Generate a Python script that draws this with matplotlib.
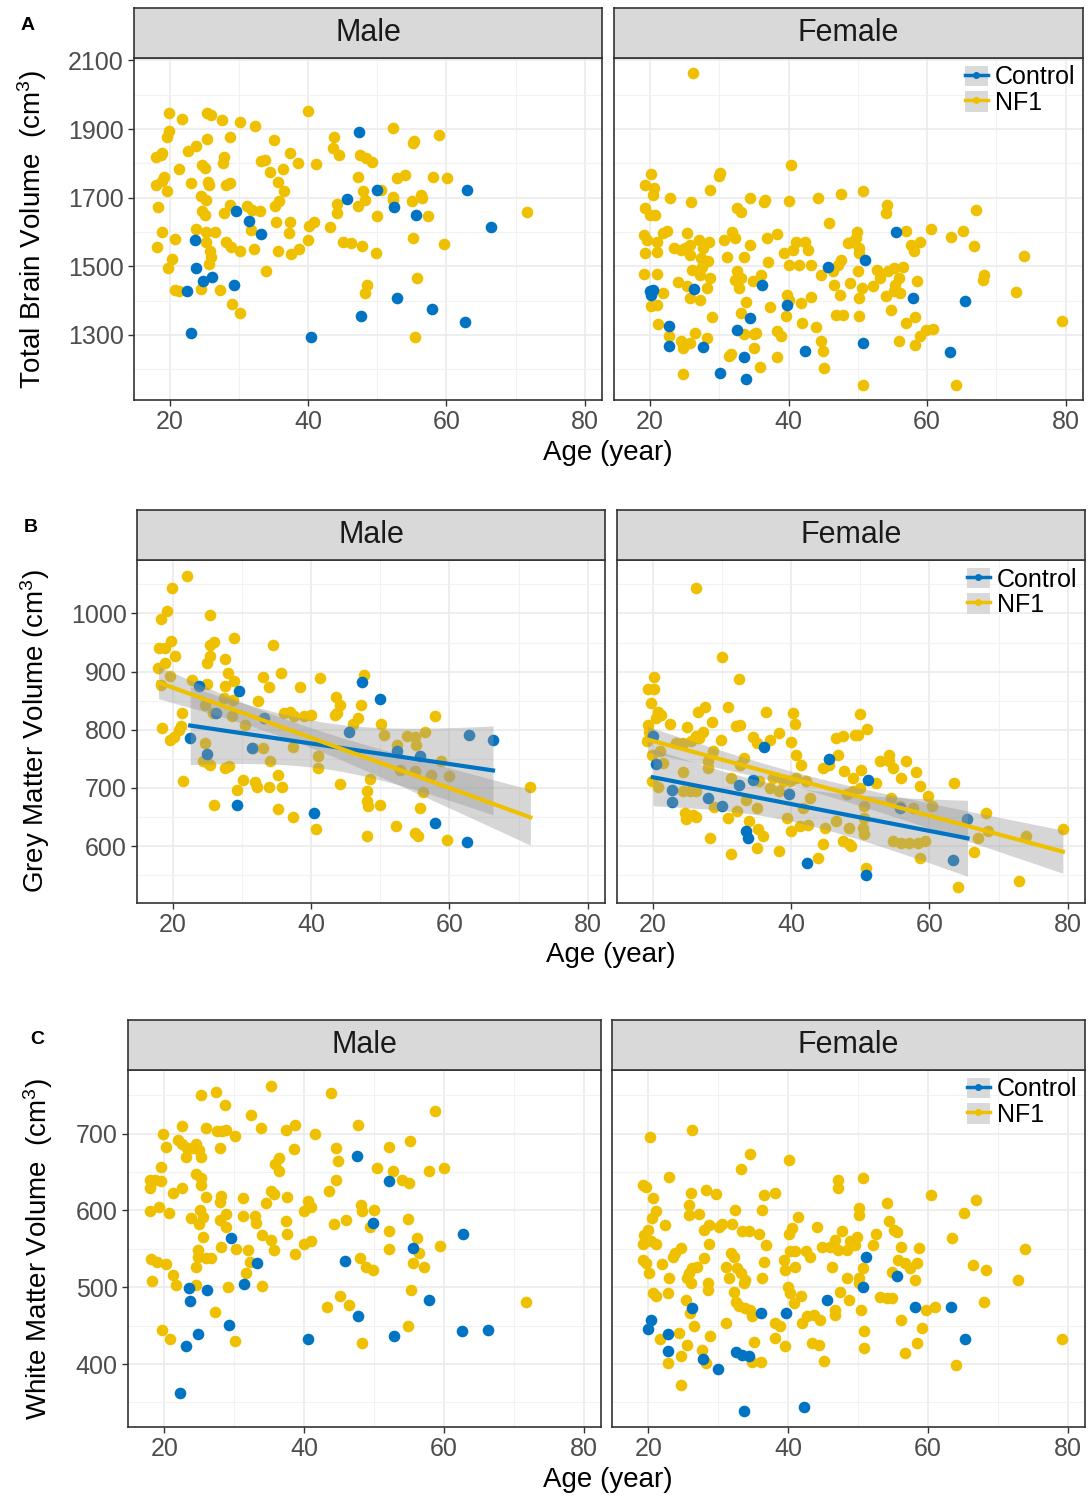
import numpy as np
import matplotlib
matplotlib.use('Agg')
import matplotlib.pyplot as plt
from matplotlib.patches import Patch
from matplotlib.lines import Line2D

plt.rcParams['font.family'] = ['Liberation Sans', 'DejaVu Sans']
plt.rcParams['mathtext.default'] = 'regular'

# ---- data ----
# A: total brain volume
tbv_male_ctrl_age = [47.4, 45.6, 29.5, 31.4, 33.2, 23.6, 23.8, 24.8, 26.1, 22.4, 29.2, 23.1, 40.4, 47.6,
                     49.9, 52.4, 55.6, 62.9, 66.4, 52.9, 57.9, 62.7]
tbv_male_ctrl = [1892, 1696, 1661, 1633, 1593, 1577, 1495, 1457, 1468, 1427, 1446, 1304, 1295, 1356,
                 1722, 1672, 1650, 1722, 1614, 1407, 1374, 1336]
tbv_male_nf1_age = [19.8, 21.8, 25.3, 25.9, 27.5, 30.1, 32.3, 19.9, 19.6, 25.3, 28.7, 35.1, 40.0, 18.0, 18.7,
                    18.9, 22.6, 23.8, 24.7, 25.0, 27.8, 27.7, 21.3, 33.1, 33.7, 37.3, 38.5, 43.8, 43.6, 44.4,
                    41.1, 34.5, 36.3, 19.1, 18.8, 18.0, 19.6, 23.1, 25.5, 25.6, 28.1, 28.7, 35.7, 36.5, 18.3,
                    24.5, 25.2, 28.7, 24.7, 25.0, 27.8, 31.2, 31.9, 33.0, 35.2, 35.8, 35.3, 37.4, 37.2, 31.7,
                    40.1, 40.8, 40.0, 43.2, 18.8, 20.8, 23.8, 25.2, 26.5, 18.1, 25.2, 25.8, 25.9, 25.6, 28.1,
                    28.8, 30.2, 32.2, 35.6, 37.5, 38.7, 44.1, 44.2, 45.1, 46.2, 47.8, 47.2, 47.9, 48.2, 47.2,
                    20.3, 19.7, 33.9, 20.7, 21.3, 24.5, 27.3, 29.0, 30.1, 48.5, 48.2, 47.5, 48.3, 49.3, 52.2,
                    58.9, 55.2, 55.3, 52.8, 54.0, 58.0, 60.1, 50.6, 52.3, 52.3, 55.0, 56.3, 56.5, 50.0, 57.4,
                    55.1, 59.6, 49.8, 55.7, 55.5, 71.7]
tbv_male_nf1 = [1948, 1929, 1946, 1941, 1927, 1921, 1908, 1895, 1878, 1870, 1877, 1867, 1953, 1818, 1824,
                1829, 1837, 1851, 1795, 1786, 1817, 1802, 1782, 1807, 1810, 1829, 1800, 1876, 1846, 1824,
                1799, 1774, 1783, 1761, 1747, 1737, 1720, 1743, 1745, 1737, 1737, 1744, 1745, 1720, 1672,
                1705, 1693, 1679, 1661, 1650, 1654, 1676, 1664, 1662, 1676, 1689, 1630, 1630, 1598, 1606,
                1616, 1630, 1575, 1613, 1599, 1579, 1609, 1601, 1600, 1557, 1572, 1543, 1528, 1507, 1572,
                1556, 1543, 1549, 1545, 1535, 1549, 1682, 1655, 1570, 1568, 1560, 1759, 1718, 1693, 1676,
                1521, 1495, 1485, 1432, 1429, 1434, 1432, 1390, 1363, 1446, 1422, 1824, 1815, 1803, 1904,
                1883, 1858, 1865, 1758, 1767, 1761, 1758, 1722, 1703, 1693, 1689, 1708, 1698, 1647, 1647,
                1582, 1565, 1538, 1465, 1293, 1659]
tbv_female_ctrl_age = [20.0, 20.5, 20.2, 26.3, 36.2, 39.8, 45.7, 22.8, 22.8, 27.7, 32.6, 34.5, 33.6, 30.1,
                       33.8, 42.3, 55.5, 51.1, 57.9, 65.4, 50.8, 63.3]
tbv_female_ctrl = [1427, 1431, 1415, 1433, 1446, 1388, 1499, 1325, 1267, 1265, 1315, 1349, 1236, 1189,
                   1172, 1252, 1599, 1517, 1407, 1399, 1276, 1250]
tbv_female_nf1_age = [26.2, 20.1, 19.3, 20.6, 20.4, 19.3, 20.0, 20.7, 22.9, 25.9, 28.6, 30.1, 29.9, 32.6, 33.1,
                      34.5, 36.6, 36.5, 40.0, 40.3, 44.3, 47.5, 45.8, 19.1, 19.5, 21.0, 21.9, 22.4, 19.3, 21.0,
                      25.3, 23.4, 24.4, 25.1, 25.8, 27.0, 28.5, 27.7, 27.3, 28.3, 25.8, 30.7, 31.9, 32.3, 31.1,
                      33.6, 34.4, 36.9, 38.3, 37.0, 19.2, 21.0, 24.0, 26.1, 27.5, 27.2, 28.7, 28.2, 25.4, 25.8,
                      27.2, 32.6, 33.1, 32.3, 32.8, 34.8, 36.0, 21.9, 21.0, 20.2, 21.2, 33.9, 37.3, 33.1, 28.9,
                      39.6, 39.8, 40.1, 39.4, 40.6, 41.1, 42.3, 42.8, 43.3, 41.5, 40.1, 41.8, 43.3, 41.9, 43.9,
                      44.7, 46.4, 47.6, 47.1, 46.6, 47.4, 46.8, 47.8, 22.7, 24.4, 24.7, 25.8, 26.5, 28.2, 24.7,
                      31.4, 31.7, 33.6, 35.0, 35.0, 35.3, 38.4, 38.9, 38.3, 35.9, 44.7, 45.0, 45.1, 50.8, 54.2,
                      54.1, 49.9, 49.8, 49.1, 48.6, 50.1, 50.2, 56.9, 57.6, 58.1, 59.0, 60.6, 63.5, 65.2, 66.7,
                      67.0, 74.0, 68.2, 68.1, 72.9, 79.4, 50.0, 48.9, 52.7, 53.2, 54.4, 55.2, 56.5, 55.9, 55.4,
                      55.2, 56.1, 52.2, 50.6, 50.1, 54.0, 58.5, 50.2, 54.8, 56.9, 58.3, 59.8, 60.9, 59.0, 58.3,
                      56.0, 50.8, 64.1]
tbv_female_nf1 = [2062, 1769, 1737, 1729, 1708, 1669, 1650, 1650, 1698, 1686, 1722, 1771, 1762, 1669, 1657,
                  1700, 1693, 1687, 1690, 1795, 1700, 1710, 1626, 1592, 1577, 1572, 1596, 1603, 1538, 1540,
                  1596, 1553, 1548, 1553, 1562, 1577, 1572, 1553, 1524, 1514, 1533, 1577, 1599, 1582, 1527,
                  1527, 1562, 1582, 1594, 1512, 1477, 1477, 1453, 1490, 1499, 1475, 1465, 1436, 1441, 1407,
                  1402, 1485, 1465, 1461, 1436, 1456, 1475, 1422, 1388, 1383, 1331, 1396, 1380, 1364, 1352,
                  1354, 1417, 1402, 1538, 1548, 1572, 1572, 1548, 1504, 1504, 1504, 1393, 1409, 1334, 1323,
                  1475, 1485, 1519, 1504, 1446, 1417, 1359, 1359, 1296, 1281, 1262, 1276, 1305, 1291, 1186,
                  1237, 1244, 1301, 1301, 1262, 1306, 1310, 1296, 1235, 1206, 1281, 1252, 1204, 1718, 1679,
                  1655, 1601, 1582, 1572, 1567, 1553, 1538, 1604, 1562, 1543, 1572, 1609, 1585, 1604, 1558,
                  1664, 1531, 1475, 1461, 1424, 1339, 1485, 1451, 1490, 1466, 1485, 1496, 1499, 1466, 1446,
                  1427, 1421, 1443, 1436, 1407, 1412, 1458, 1356, 1371, 1334, 1351, 1315, 1317, 1296, 1271,
                  1281, 1155, 1155]

# B: grey matter volume
gmv_male_ctrl_age = [23.7, 29.6, 22.5, 24.9, 26.2, 31.5, 33.2, 29.3, 40.4, 47.3, 45.5, 49.9, 52.4, 55.7,
                     62.8, 66.3, 57.9, 62.6]
gmv_male_ctrl = [876, 866, 786, 758, 829, 769, 820, 671, 656, 882, 797, 853, 764, 754, 791, 782, 640, 607]
gmv_male_nf1_age = [22.0, 19.9, 19.2, 18.2, 25.3, 18.0, 18.9, 19.7, 20.3, 17.9, 18.9, 19.6, 18.2, 25.3, 26.0,
                    25.3, 24.9, 28.8, 27.5, 28.0, 28.9, 27.5, 22.8, 24.9, 27.4, 28.7, 34.5, 33.0, 33.9, 35.6,
                    38.4, 41.3, 32.3, 21.3, 25.8, 24.6, 18.4, 20.1, 20.9, 21.2, 19.6, 24.6, 24.4, 25.1, 25.3,
                    27.5, 28.1, 28.5, 30.4, 31.6, 33.0, 34.0, 36.1, 37.5, 37.0, 39.0, 40.0, 37.3, 41.0, 41.0,
                    21.4, 25.9, 29.2, 30.2, 31.8, 32.2, 33.9, 35.8, 35.2, 35.2, 37.4, 40.7, 43.6, 44.2, 43.7,
                    43.5, 44.2, 47.2, 47.6, 46.8, 46.1, 48.5, 48.0, 48.0, 48.2, 48.1, 57.9, 50.1, 50.5, 53.8,
                    55.0, 56.4, 52.4, 55.2, 52.8, 55.0, 57.4, 60.0, 58.8, 49.9, 56.2, 55.7, 52.3, 55.0, 55.5,
                    59.6, 71.7]
gmv_male_nf1 = [1065, 1044, 1005, 991, 997, 940, 941, 953, 927, 906, 914, 893, 877, 946, 951,
                927, 914, 957, 922, 897, 884, 876, 886, 879, 854, 851, 946, 891, 873, 897,
                873, 889, 849, 829, 829, 842, 803, 787, 800, 807, 783, 777, 746, 743, 740,
                734, 737, 823, 809, 769, 769, 746, 829, 823, 831, 823, 826, 771, 754, 734,
                711, 671, 697, 713, 710, 702, 701, 701, 723, 663, 650, 629, 857, 843, 829,
                826, 706, 842, 895, 820, 810, 716, 694, 677, 669, 617, 823, 810, 791, 790,
                787, 797, 774, 774, 731, 729, 723, 720, 746, 670, 693, 665, 635, 623, 617,
                610, 702]
gmv_female_ctrl_age = [20.0, 20.4, 22.8, 22.8, 36.0, 34.5, 32.5, 27.9, 30.0, 39.7, 45.5, 33.5, 33.8, 42.3,
                       51.1, 55.7, 65.5, 63.4, 50.8]
gmv_female_ctrl = [789, 741, 697, 676, 770, 714, 705, 682, 669, 690, 750, 625, 614, 570,
                   714, 666, 646, 576, 551]
gmv_female_nf1_age = [26.2, 30.0, 32.5, 20.1, 19.3, 20.2, 19.7, 20.7, 21.2, 20.5, 22.4, 24.9, 26.5, 27.5, 28.6,
                      29.9, 27.3, 26.7, 30.8, 32.0, 32.6, 34.5, 35.0, 36.4, 38.2, 36.9, 40.3, 40.5, 39.9, 19.3,
                      19.5, 19.2, 19.8, 21.0, 21.4, 19.8, 20.7, 23.4, 24.3, 25.5, 26.3, 28.7, 27.9, 24.3, 27.9,
                      24.3, 25.3, 26.3, 24.6, 25.8, 26.3, 24.8, 28.2, 28.8, 31.3, 31.3, 30.9, 32.1, 33.1, 32.6,
                      33.5, 35.0, 33.9, 35.2, 35.9, 35.0, 38.2, 36.9, 38.3, 39.4, 40.0, 40.7, 41.4, 41.3, 42.4,
                      42.7, 41.7, 39.8, 43.9, 44.6, 44.9, 46.5, 44.6, 47.7, 46.5, 47.5, 46.7, 45.5, 48.0, 48.9,
                      47.5, 48.4, 49.2, 35.4, 37.3, 38.8, 40.7, 42.2, 50.0, 49.6, 51.0, 50.1, 48.9, 49.9, 52.2,
                      52.9, 54.2, 54.2, 54.7, 56.6, 55.9, 58.0, 58.6, 59.8, 60.4, 54.5, 55.7, 57.6, 50.6, 50.6,
                      50.4, 48.4, 48.7, 54.7, 55.9, 57.1, 58.3, 59.3, 50.6, 58.6, 50.8, 63.5, 64.1, 68.2, 67.0,
                      66.5, 68.4, 74.0, 72.9, 79.3]
gmv_female_nf1 = [1043, 926, 887, 890, 870, 870, 846, 830, 825, 820, 810, 805, 831, 839, 814,
                  783, 797, 786, 840, 806, 809, 787, 777, 831, 795, 782, 829, 810, 779, 809,
                  797, 780, 757, 763, 743, 711, 701, 777, 777, 780, 789, 763, 746, 727, 734,
                  694, 694, 694, 657, 654, 650, 646, 614, 667, 717, 586, 649, 660, 751, 740,
                  680, 666, 643, 629, 617, 597, 591, 700, 694, 649, 626, 757, 740, 634, 637,
                  683, 666, 711, 580, 603, 631, 643, 734, 729, 786, 789, 757, 740, 689, 694,
                  609, 603, 791, 711, 717, 711, 717, 711, 827, 791, 801, 731, 717, 700, 709,
                  746, 757, 746, 734, 746, 717, 727, 703, 686, 669, 683, 669, 666, 669, 649,
                  631, 631, 600, 609, 606, 606, 606, 609, 620, 579, 563, 709, 530, 657, 613,
                  589, 626, 617, 540, 630]

# C: white matter volume
wmv_male_ctrl_age = [29.6, 33.2, 23.6, 26.1, 23.7, 31.4, 29.2, 24.8, 23.1, 22.3, 40.5, 45.8, 47.6, 47.7,
                     52.2, 49.8, 55.6, 62.8, 57.9, 52.9, 62.6, 66.3]
wmv_male_ctrl = [564, 532, 499, 497, 482, 504, 451, 439, 423, 362, 433, 534, 671, 462,
                 638, 584, 551, 570, 483, 436, 443, 444]
wmv_male_nf1_age = [35.2, 25.2, 27.4, 28.7, 32.4, 33.9, 43.8, 22.6, 26.0, 27.6, 28.3, 28.8, 30.1, 19.8, 20.2,
                    21.9, 22.6, 23.3, 24.0, 24.5, 25.0, 23.1, 25.2, 28.0, 37.4, 38.7, 41.5, 47.7, 38.5, 36.4,
                    35.9, 36.4, 19.5, 18.0, 18.6, 19.5, 17.9, 24.5, 25.2, 25.2, 22.6, 21.2, 26.0, 28.1, 27.9,
                    31.2, 35.2, 35.7, 34.5, 37.5, 40.5, 41.0, 40.0, 44.5, 44.8, 44.5, 43.6, 17.9, 19.3, 20.7,
                    23.8, 25.1, 25.0, 25.5, 27.9, 28.8, 28.8, 31.2, 33.0, 33.1, 34.0, 35.2, 35.7, 37.4, 37.6,
                    38.7, 40.0, 41.0, 44.3, 46.0, 48.1, 48.3, 25.6, 24.8, 24.8, 26.0, 26.7, 24.5, 28.1, 30.2,
                    32.0, 32.2, 31.7, 18.1, 19.0, 20.2, 21.2, 21.7, 24.5, 18.3, 29.1, 34.0, 27.2, 19.6, 20.8,
                    30.1, 43.3, 45.1, 46.4, 48.0, 48.8, 49.8, 48.3, 58.8, 52.1, 55.2, 50.4, 52.8, 54.0, 55.0,
                    57.9, 60.1, 50.0, 49.5, 54.9, 52.2, 52.1, 56.2, 56.4, 55.6, 57.2, 59.5, 55.3, 54.9, 71.8]
wmv_male_nf1 = [762, 750, 754, 738, 724, 708, 753, 710, 707, 703, 704, 705, 697, 699, 683,
                692, 686, 681, 681, 686, 679, 670, 670, 681, 705, 712, 700, 712, 680, 668,
                660, 652, 657, 640, 640, 638, 629, 647, 642, 633, 629, 623, 617, 619, 611,
                616, 625, 622, 610, 618, 612, 605, 599, 681, 665, 640, 625, 599, 604, 597,
                590, 601, 583, 592, 588, 596, 579, 593, 593, 584, 568, 562, 549, 586, 569,
                543, 557, 560, 582, 588, 607, 599, 565, 549, 540, 538, 538, 527, 552, 550,
                549, 533, 518, 537, 533, 530, 516, 503, 503, 508, 501, 502, 468, 444, 432,
                430, 474, 489, 477, 538, 527, 523, 428, 730, 683, 690, 656, 652, 640, 636,
                651, 656, 600, 579, 589, 573, 550, 564, 544, 531, 526, 554, 497, 449, 481]
wmv_female_ctrl_age = [20.4, 20.0, 22.8, 22.8, 26.3, 27.8, 30.0, 32.5, 33.4, 34.4, 36.1, 39.7, 45.6, 33.7,
                       42.3, 51.1, 55.6, 50.7, 58.1, 63.3, 65.3]
wmv_female_ctrl = [457, 445, 439, 417, 473, 407, 394, 416, 412, 411, 466, 467, 483, 339,
                   344, 539, 515, 500, 474, 474, 433]
wmv_female_nf1_age = [26.2, 20.3, 34.5, 33.2, 40.2, 22.9, 19.2, 19.7, 20.7, 21.1, 20.5, 26.1, 25.8, 25.8, 27.3,
                      28.3, 29.7, 32.4, 36.5, 38.2, 36.3, 22.4, 19.9, 19.4, 19.2, 20.4, 21.1, 28.0, 28.7, 30.1,
                      30.6, 32.0, 33.4, 34.4, 35.8, 36.8, 28.7, 24.7, 23.8, 23.5, 31.8, 32.3, 19.2, 19.7, 20.1,
                      22.0, 26.3, 27.0, 25.8, 25.6, 26.1, 27.9, 31.1, 32.7, 31.5, 33.2, 33.9, 33.7, 23.0, 36.3,
                      36.5, 28.5, 28.5, 20.6, 21.1, 22.8, 25.4, 26.0, 32.3, 32.5, 33.0, 33.9, 34.6, 34.8, 26.6,
                      31.1, 38.2, 38.9, 38.1, 39.5, 40.0, 40.3, 40.8, 41.8, 39.4, 39.6, 41.0, 40.3, 40.1, 40.6,
                      41.4, 41.0, 42.5, 43.2, 42.0, 42.7, 43.7, 44.6, 43.4, 44.4, 45.1, 44.1, 44.8, 46.0, 46.7,
                      47.2, 46.3, 47.7, 47.1, 47.2, 47.5, 46.7, 46.7, 21.7, 22.8, 24.4, 24.7, 25.6, 28.8, 27.7,
                      28.2, 35.1, 34.9, 36.1, 24.7, 50.7, 60.5, 66.9, 65.2, 54.2, 50.1, 50.1, 54.4, 55.1, 55.6,
                      52.6, 48.9, 49.9, 49.6, 48.5, 52.1, 56.1, 58.8, 63.4, 73.9, 55.7, 56.8, 58.4, 57.5, 58.2,
                      54.9, 50.7, 48.5, 50.1, 50.1, 48.7, 50.4, 66.5, 68.3, 72.9, 53.2, 54.2, 54.9, 59.8, 61.0,
                      68.0, 56.1, 59.1, 50.8, 58.4, 50.8, 56.8, 64.0, 79.2]
wmv_female_nf1 = [705, 696, 673, 654, 666, 643, 633, 630, 616, 599, 590, 623, 607, 594, 596,
                  627, 622, 601, 620, 623, 601, 581, 575, 568, 557, 560, 557, 575, 581, 579,
                  583, 583, 573, 573, 570, 555, 557, 551, 544, 540, 544, 540, 536, 531, 518,
                  530, 525, 527, 518, 512, 505, 538, 527, 525, 512, 518, 510, 505, 512, 512,
                  533, 505, 497, 492, 488, 493, 483, 466, 494, 481, 475, 473, 470, 462, 450,
                  453, 453, 449, 434, 423, 501, 492, 479, 488, 536, 523, 527, 547, 570, 577,
                  592, 547, 547, 540, 453, 462, 464, 457, 427, 425, 404, 579, 553, 553, 562,
                  549, 527, 573, 640, 629, 494, 470, 464, 433, 401, 440, 410, 425, 436, 418,
                  401, 429, 403, 403, 373, 642, 620, 614, 597, 610, 603, 594, 586, 575, 572,
                  570, 560, 566, 555, 549, 555, 553, 551, 564, 550, 536, 531, 532, 525, 509,
                  520, 525, 512, 512, 505, 484, 471, 529, 523, 509, 487, 486, 486, 470, 474,
                  481, 457, 447, 443, 428, 421, 415, 399, 433]

BLUE = '#0073C2'
YELLOW = '#EFC000'
W, H = 1090, 1498


def box(fig, l, t, r, b):
    return fig.add_axes([l / W, 1 - b / H, (r - l) / W, (b - t) / H])


def tq(df):
    z = 1.959964
    return z + (z**3 + z) / (4 * df) + (5 * z**5 + 16 * z**3 + 3 * z) / (96 * df**2)


def add_fit(ax, x, y, color):
    x = np.asarray(x, float)
    y = np.asarray(y, float)
    n = len(x)
    b, a = np.polyfit(x, y, 1)
    xs = np.linspace(x.min(), x.max(), 80)
    ys = a + b * xs
    s = np.sqrt(np.sum((y - (a + b * x))**2) / (n - 2))
    se = s * np.sqrt(1 / n + (xs - x.mean())**2 / np.sum((x - x.mean())**2))
    t = tq(n - 2)
    ax.fill_between(xs, ys - t * se, ys + t * se, color='#999999', alpha=0.4, lw=0, zorder=3)
    ax.plot(xs, ys, color=color, lw=3, zorder=4)


def panel(fig, pos, strip_top, title, ca, cv, na, nv, ylim, yt, ym, fit=False, legend=False):
    l, t, r, b = pos
    ax = box(fig, l, t, r, b)
    ax.scatter(na, nv, s=70, color=YELLOW, lw=0, zorder=2)
    ax.scatter(ca, cv, s=70, color=BLUE, lw=0, zorder=2)
    if fit:
        add_fit(ax, ca, cv, BLUE)
        add_fit(ax, na, nv, YELLOW)
    ax.set_xlim(14.8, 82.5)
    ax.set_ylim(*ylim)
    ax.set_xticks([20, 40, 60, 80])
    ax.set_xticks([30, 50, 70], minor=True)
    ax.set_yticks(yt)
    ax.set_yticks(ym, minor=True)
    ax.grid(True, which='major', color='#EBEBEB', lw=1.2, zorder=0)
    ax.grid(True, which='minor', color='#F2F2F2', lw=0.8, zorder=0)
    ax.set_axisbelow(True)
    ax.tick_params(which='major', length=4, width=1, color='#333333', labelsize=18, labelcolor='#4D4D4D')
    ax.tick_params(which='minor', length=0)
    if l > 600:
        ax.tick_params(axis='y', length=0, labelleft=False)
    for sp in ax.spines.values():
        sp.set_color('#333333')
        sp.set_linewidth(1.2)
    st = box(fig, l, strip_top, r, t)
    st.set_facecolor('#D9D9D9')
    st.set_xticks([])
    st.set_yticks([])
    for sp in st.spines.values():
        sp.set_color('#333333')
        sp.set_linewidth(1.2)
    st.text(0.5, 0.5, title, ha='center', va='center', fontsize=22, color='#1A1A1A', transform=st.transAxes)
    if legend:
        hs = [(Patch(facecolor='#D9D9D9', edgecolor='none'),
               Line2D([], [], color=c, lw=2.5, marker='o', ms=4)) for c in (BLUE, YELLOW)]
        ax.legend(hs, ['Control', 'NF1'], loc='upper right', frameon=False, fontsize=18,
                  handlelength=0.9, handleheight=0.9, handletextpad=0.3, labelspacing=0.05,
                  borderaxespad=0.1, borderpad=0.2)
    return ax


fig = plt.figure(figsize=(10.9, 14.98), dpi=100)

rows = [
    dict(m=(134, 58, 602, 400), f=(614, 58, 1083, 400), st=8, ylim=(1110, 2107),
         yt=[1300, 1500, 1700, 1900, 2100], ym=[1200, 1400, 1600, 1800, 2000],
         data=(tbv_male_ctrl_age, tbv_male_ctrl, tbv_male_nf1_age, tbv_male_nf1,
               tbv_female_ctrl_age, tbv_female_ctrl, tbv_female_nf1_age, tbv_female_nf1),
         ylab='Total Brain Volume  (cm$^3$)', letter=('A', 28, 25), xl=(608, 453), yl=32, fit=False),
    dict(m=(137, 560, 605, 903), f=(617, 560, 1085, 903), st=510, ylim=(502, 1092),
         yt=[600, 700, 800, 900, 1000], ym=[550, 650, 750, 850, 950, 1050],
         data=(gmv_male_ctrl_age, gmv_male_ctrl, gmv_male_nf1_age, gmv_male_nf1,
               gmv_female_ctrl_age, gmv_female_ctrl, gmv_female_nf1_age, gmv_female_nf1),
         ylab='Grey Matter Volume (cm$^3$)', letter=('B', 31, 528), xl=(611, 955), yl=35, fit=True),
    dict(m=(128, 1070, 601, 1427), f=(612, 1070, 1085, 1427), st=1020, ylim=(318, 783),
         yt=[400, 500, 600, 700], ym=[350, 450, 550, 650, 750],
         data=(wmv_male_ctrl_age, wmv_male_ctrl, wmv_male_nf1_age, wmv_male_nf1,
               wmv_female_ctrl_age, wmv_female_ctrl, wmv_female_nf1_age, wmv_female_nf1),
         ylab='White Matter Volume  (cm$^3$)', letter=('C', 37, 1040), xl=(608, 1480), yl=38, fit=False),
]

for row in rows:
    d = row['data']
    panel(fig, row['m'], row['st'], 'Male', d[0], d[1], d[2], d[3],
          row['ylim'], row['yt'], row['ym'], fit=row['fit'])
    panel(fig, row['f'], row['st'], 'Female', d[4], d[5], d[6], d[7],
          row['ylim'], row['yt'], row['ym'], fit=row['fit'], legend=True)
    lt, lx, ly = row['letter']
    fig.text(lx / W, 1 - ly / H, lt, fontsize=14, fontweight='bold', ha='center', va='center')
    fig.text(row['xl'][0] / W, 1 - row['xl'][1] / H, 'Age (year)', fontsize=20, ha='center', va='center')
    yc = (row['m'][1] + row['m'][3]) / 2
    fig.text(row['yl'] / W, 1 - yc / H, row['ylab'], fontsize=20, rotation=90, ha='center', va='center')

fig.savefig('out.png', dpi=100)
